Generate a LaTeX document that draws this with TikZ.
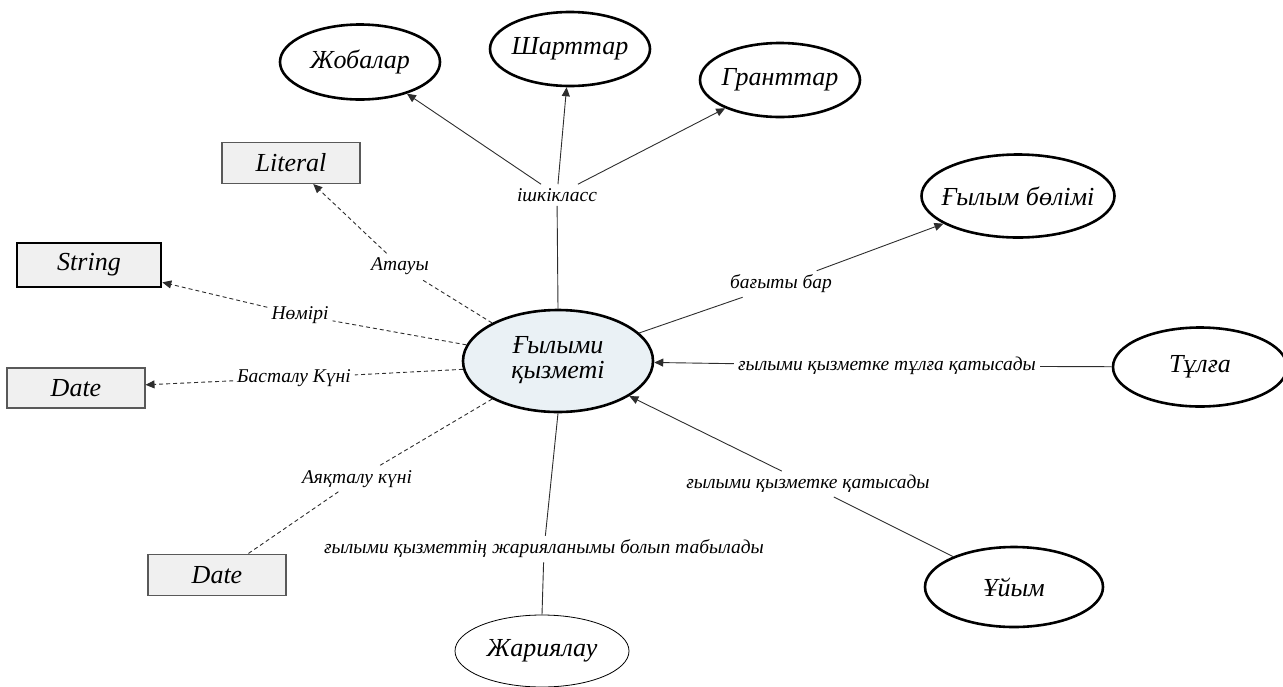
\documentclass[tikz,border=0pt]{standalone}
\usepackage{fontspec}
\setmainfont{Liberation Serif}
\usetikzlibrary{shapes.geometric,arrows.meta}
\definecolor{cfill}{RGB}{234,241,245}
\definecolor{rfill}{RGB}{240,240,240}
\definecolor{lncol}{RGB}{45,45,45}
\newcommand{\zw}[1]{\makebox[0pt]{#1}}
\begin{document}
\begin{tikzpicture}[x=1pt,y=-1pt,
  ent/.style={ellipse, draw=black, line width=2.6pt, inner sep=0pt, font=\fontsize{26}{27}\selectfont\itshape},
  rbox/.style={rectangle, draw=black!65, fill=rfill, line width=1.1pt, inner sep=0pt, font=\fontsize{26}{28}\selectfont\itshape},
  lab/.style={inner sep=4pt, font=\fontsize{19.5}{21}\selectfont\itshape},
  ln/.style={draw=lncol, line width=0.9pt},
  arr/.style={ln, -{Triangle[length=9pt,width=8pt]}},
  dln/.style={ln, dash pattern=on 4pt off 3pt},
  dsh/.style={dln, -{Triangle[length=9pt,width=8pt]}},
]
\useasboundingbox (0,0) rectangle (1283,686);

% entities
\node[ent, fill=cfill, minimum width=190pt, minimum height=102pt] (fq) at (558,361)
  {\zw{\begin{tabular}{@{}c@{}}Ғылыми\\[-2pt]қызметі\end{tabular}}};
\node[ent, minimum width=160pt, minimum height=75pt] (job) at (360,62) {\zw{Жобалар}};
\node[ent, minimum width=160pt, minimum height=74pt] (shart) at (570,49) {\zw{Шарттар}};
\node[ent, minimum width=160pt, minimum height=74pt] (grant) at (780,80) {\zw{Гранттар}};
\node[ent, minimum width=193pt, minimum height=83pt] (gbol) at (1018,196) {\zw{Ғылым бөлімі}};
\node[ent, minimum width=174pt, minimum height=79pt] (tulga) at (1200,367) {\zw{Тұлға}};
\node[ent, minimum width=178pt, minimum height=80pt] (uyym) at (1014,587) {\zw{Ұйым}};
\node[ent, line width=0.8pt, minimum width=174pt, minimum height=72pt] (jar) at (542,651) {\zw{Жариялау}};

% literal boxes
\node[rbox, minimum width=138pt, minimum height=41pt] (lit) at (291,163) {Literal};
\node[rbox, draw=black, line width=2.6pt, minimum width=144pt, minimum height=44pt] (str) at (89,265) {String};
\node[rbox, minimum width=138pt, minimum height=40pt] (date1) at (76,388) {Date};
\node[rbox, minimum width=138pt, minimum height=41pt] (date2) at (217,575) {Date};

% labels
\node[lab] (isk) at (557,195) {ішкікласс};
\node[lab] (bagyt) at (781,284) {бағыты бар};
\node[lab] (tlab) at (887,366) {ғылыми қызметке тұлға қатысады};
\node[lab] (ulab) at (808,484) {ғылыми қызметке қатысады};
\node[lab] (jlab) at (544,549) {ғылыми қызметтің жарияланымы болып табылады};
\node[lab] (atau) at (400,266) {Атауы};
\node[lab] (nomir) at (300,315) {Нөмірі};
\node[lab] (bast) at (294,378) {Басталу Күні};
\node[lab] (ayaq) at (357,479) {Аяқталу күні};

% subclass connectors
\draw[ln] (fq.north) -- (isk);
\draw[arr] (isk) -- (job);
\draw[arr] (isk) -- (shart);
\draw[arr] (isk) -- (grant);

% object properties
\draw[ln] (fq) -- (bagyt);
\draw[arr] (bagyt) -- (gbol);
\draw[ln] (tulga) -- (tlab);
\draw[arr] (tlab) -- (fq);
\draw[ln] (uyym) -- (ulab);
\draw[arr] (ulab) -- (fq);
\draw[ln] (fq.south) -- (jlab);
\draw[ln] (jlab) -- (jar.north);

% data properties
\draw[dln] (fq.150) -- (atau);
\draw[dsh] (atau) -- (lit);
\draw[dln] (fq.170) -- (nomir);
\draw[dsh] (nomir) -- (str);
\draw[dln] (fq.185) -- (bast);
\draw[dsh] (bast) -- (date1);
\draw[dln] (fq.210) -- (ayaq);
\draw[dln] (ayaq) -- (date2);
\end{tikzpicture}
\end{document}
